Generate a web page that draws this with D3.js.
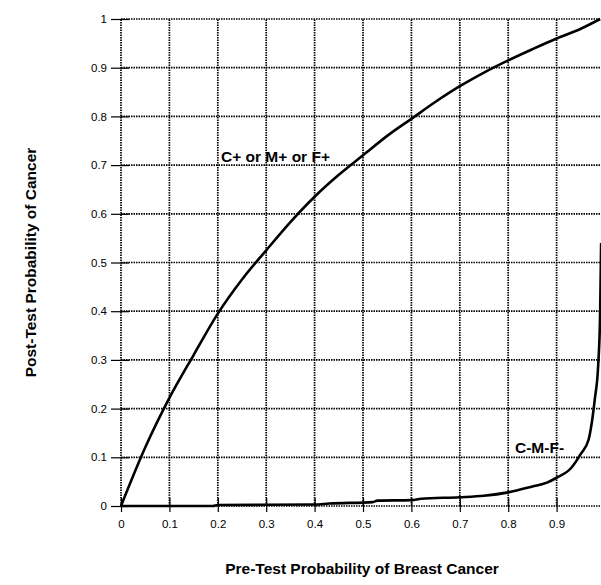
<!DOCTYPE html>
<html><head><meta charset="utf-8">
<script src="https://cdn.jsdelivr.net/npm/d3@7"></script>
<style>body{margin:0;background:#fff}svg{display:block}text{font-family:"Liberation Sans",Arial,sans-serif}</style>
</head><body>
<script>
const xTicks=[0,0.1,0.2,0.3,0.4,0.5,0.6,0.7,0.8,0.9];
const yTicks=[0,0.1,0.2,0.3,0.4,0.5,0.6,0.7,0.8,0.9,1];
const posPre=[0,0.05,0.10,0.15,0.20,0.25,0.30,0.35,0.40,0.45,0.50,0.55,0.60,0.65,0.70,0.75,0.80,0.85,0.90,0.95,0.99];
const posPost=[0,0.12,0.222,0.31,0.395,0.465,0.525,0.583,0.635,0.68,0.72,0.76,0.795,0.83,0.862,0.89,0.915,0.938,0.96,0.98,1.0];
const negPre=[0,0.19,0.2,0.4,0.43,0.52,0.53,0.6,0.62,0.7,0.75,0.8,0.85,0.88,0.9,0.93,0.95,0.966,0.979,0.986,0.99,0.992];
const negPost=[0,0,0.002,0.003,0.005,0.008,0.011,0.012,0.015,0.018,0.021,0.028,0.04,0.048,0.058,0.078,0.107,0.136,0.22,0.29,0.40,0.54];
const labelPos="C+ or M+ or F+", labelNeg="C-M-F-";
const xTitle="Pre-Test Probability of Breast Cancer", yTitle="Post-Test Probability of Cancer";

const W=601,H=585;
const svg=d3.select("body").append("svg").attr("width",W).attr("height",H);
const x=d3.scaleLinear().domain([0,1]).range([121,605]);
const y=d3.scaleLinear().domain([0,1]).range([506,19]);

// grid
const g=svg.append("g");
g.selectAll(".vg").data(xTicks).join("line").attr("x1",d=>x(d)).attr("x2",d=>x(d)).attr("y1",y(0)).attr("y2",y(1))
 .attr("stroke","#000").attr("stroke-width",1.7).attr("stroke-dasharray","1.5,1");
g.selectAll(".hg").data(yTicks).join("line").attr("y1",d=>y(d)).attr("y2",d=>y(d)).attr("x1",x(0)).attr("x2",W)
 .attr("stroke","#000").attr("stroke-width",1.7).attr("stroke-dasharray","1.5,1");

// axes
const yAxis=d3.axisLeft(y).tickValues(yTicks).tickFormat(d=>+d.toFixed(1)).tickSizeOuter(0);
const ya=svg.append("g").attr("transform",`translate(${x(0)},0)`).call(yAxis);
ya.select(".domain").remove();
ya.selectAll(".tick line").attr("x2",8).attr("x1",-10).attr("stroke-width",1.2);
ya.selectAll("text").attr("font-size",11.5).attr("x",-14);
const xAxis=d3.axisBottom(x).tickValues(xTicks).tickFormat(d=>+d.toFixed(1)).tickSizeOuter(0);
const xa=svg.append("g").attr("transform",`translate(0,${y(0)})`).call(xAxis);
xa.select(".domain").remove();
xa.selectAll(".tick line").attr("y1",-8).attr("y2",6).attr("stroke-width",1.2);
xa.selectAll("text").attr("font-size",11.5).attr("y",13.5);

// curves
const line=d3.line().x(d=>x(d[0])).y(d=>y(d[1])).curve(d3.curveMonotoneX);
svg.append("path").datum(posPre.map((p,i)=>[p,posPost[i]])).attr("d",line).attr("fill","none").attr("stroke","#000").attr("stroke-width",2.6);
svg.append("path").datum(negPre.map((p,i)=>[p,negPost[i]])).attr("d",line).attr("fill","none").attr("stroke","#000").attr("stroke-width",2.6);

// labels
svg.append("text").attr("x",221).attr("y",162).attr("font-size",15.5).attr("font-weight","bold").text(labelPos);
svg.append("text").attr("x",515).attr("y",453).attr("font-size",15.5).attr("font-weight","bold").text(labelNeg);
svg.append("text").attr("x",362).attr("y",574).attr("text-anchor","middle").attr("font-size",15.5).attr("font-weight","bold").text(xTitle);
svg.append("text").attr("transform",`translate(36,${(y(0)+y(1))/2}) rotate(-90)`).attr("text-anchor","middle").attr("font-size",15.5).attr("font-weight","bold").text(yTitle);
</script>
</body></html>
